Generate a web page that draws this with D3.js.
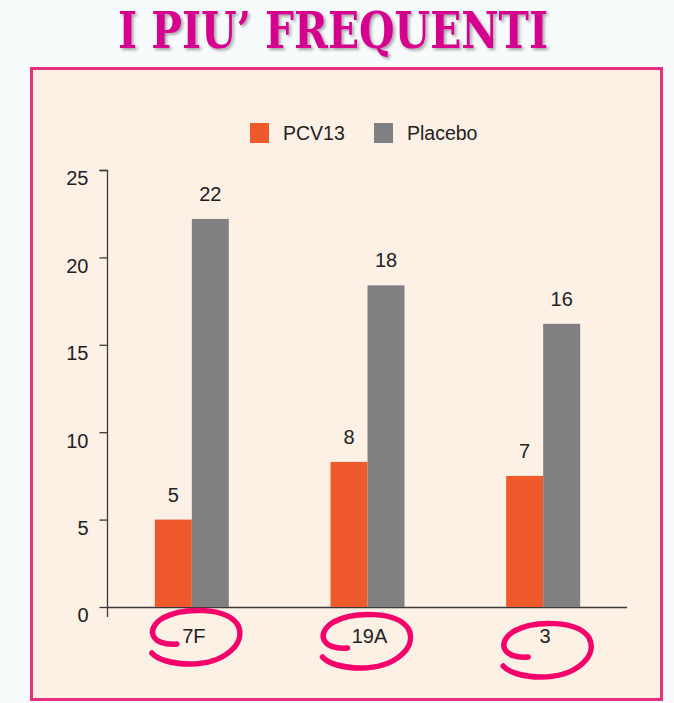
<!DOCTYPE html>
<html lang="it">
<head>
<meta charset="UTF-8">
<title>I piu' frequenti</title>
<script src="https://d3js.org/d3.v7.min.js"></script>
<style>
  * { margin: 0; padding: 0; box-sizing: border-box; }
  body { width: 674px; height: 703px; background: #f7fbfc; overflow: hidden; }
  svg { display: block; }
</style>
</head>
<body>
<div id="chart"></div>
<script>
// dati
const categories = ["7F", "19A", "3"];
const series = ["PCV13", "Placebo"];
const pcv13 = [5, 8.3, 7.5];
const placebo = [22.2, 18.4, 16.2];
const pcv13Labels = ["5", "8", "7"];
const placeboLabels = ["22", "18", "16"];
const yTicks = [0, 5, 10, 15, 20, 25];

const colors = { PCV13: "#ef5a2c", Placebo: "#808083" };

const W = 674, H = 703;
const svg = d3.select("#chart").append("svg").attr("width", W).attr("height", H);

// titolo
const shadow = svg.append("defs").append("filter").attr("id", "shadow")
  .attr("x", "-5%").attr("y", "-20%").attr("width", "110%").attr("height", "140%");
shadow.append("feDropShadow").attr("dx", 2).attr("dy", 2).attr("stdDeviation", 1.5)
  .attr("flood-color", "#000").attr("flood-opacity", 0.35);

svg.append("text")
  .attr("x", 333).attr("y", 48)
  .attr("text-anchor", "middle")
  .attr("textLength", 430)
  .attr("lengthAdjust", "spacingAndGlyphs")
  .attr("filter", "url(#shadow)")
  .style("font-family", "'DejaVu Serif', 'Liberation Serif', serif")
  .style("font-weight", "bold")
  .style("font-size", "50px")
  .style("fill", "#d5008d")
  .text("I PIU’ FREQUENTI");

// riquadro
svg.append("rect")
  .attr("x", 31.5).attr("y", 68.5).attr("width", 630).attr("height", 631)
  .attr("fill", "#fdf0e5").attr("stroke", "#e62f83").attr("stroke-width", 3);

// scale
const y = d3.scaleLinear().domain([0, 25]).range([607, 170]);
const x0 = d3.scaleBand().domain(categories).range([104, 631]);
const x1 = d3.scaleBand().domain(series).range([0, 74]);

const font = "'Liberation Sans', Arial, sans-serif";

// assi
const yAxis = svg.append("g").attr("transform", "translate(107.5,0)")
  .call(d3.axisLeft(y).tickValues(yTicks).tickSize(8).tickPadding(11));
yAxis.select(".domain").attr("d", `M-8,${y(25) + 0.5}H0V${y(0) + 10}`);
yAxis.selectAll("line, .domain").attr("stroke", "#3a3a3a").attr("stroke-width", 1.3);
yAxis.selectAll("text").attr("dy", "0.74em")
  .style("font-family", font).style("font-size", "20px").attr("fill", "#222");

svg.append("line")
  .attr("x1", 107).attr("x2", 627)
  .attr("y1", y(0) + 0.5).attr("y2", y(0) + 0.5)
  .attr("stroke", "#3a3a3a").attr("stroke-width", 1.3);

// barre
const groups = svg.selectAll(".grp").data(categories).join("g")
  .attr("class", "grp")
  .attr("transform", d => `translate(${x0(d) + x0.bandwidth() / 2 - 37},0)`);

const rows = categories.map((c, i) => [
  { s: "PCV13", v: pcv13[i], l: pcv13Labels[i] },
  { s: "Placebo", v: placebo[i], l: placeboLabels[i] }
]);

groups.selectAll("rect").data((d, i) => rows[i]).join("rect")
  .attr("x", d => x1(d.s))
  .attr("y", d => y(d.v))
  .attr("width", x1.bandwidth())
  .attr("height", d => y(0) - y(d.v))
  .attr("fill", d => colors[d.s]);

groups.selectAll("text").data((d, i) => rows[i]).join("text")
  .attr("x", d => x1(d.s) + x1.bandwidth() / 2)
  .attr("y", d => y(d.v) - 18)
  .attr("text-anchor", "middle")
  .style("font-family", font).style("font-size", "20px").attr("fill", "#222")
  .text(d => d.l);

// etichette categorie
svg.selectAll(".cat").data(categories).join("text")
  .attr("class", "cat")
  .attr("x", d => x0(d) + x0.bandwidth() / 2 + 2)
  .attr("y", 643)
  .attr("text-anchor", "middle")
  .style("font-family", font).style("font-size", "20px").attr("fill", "#222")
  .text(d => d);

// cerchi a mano
const ringPos = [{ dx: 3, cy: 637 }, { dx: -2, cy: 641 }, { dx: 3, cy: 650 }];
svg.selectAll(".ring").data(categories).join("path")
  .attr("class", "ring")
  .attr("fill", "none")
  .attr("stroke", "#f5006b")
  .attr("stroke-width", 5.5)
  .attr("stroke-linecap", "round")
  .attr("d", (d, i) => {
    const cx = x0(d) + x0.bandwidth() / 2 + ringPos[i].dx;
    const cy = ringPos[i].cy;
    const p = d3.path();
    p.moveTo(cx - 18, cy + 7);
    p.bezierCurveTo(cx - 44, cy + 9, cx - 50, cy - 8, cx - 32, cy - 19);
    p.bezierCurveTo(cx - 12, cy - 30, cx + 32, cy - 30, cx + 43, cy - 12);
    p.bezierCurveTo(cx + 52, cy + 6, cx + 30, cy + 27, cx - 5, cy + 27);
    p.bezierCurveTo(cx - 24, cy + 27, cx - 38, cy + 22, cx - 43, cy + 16);
    return p.toString();
  });

// legenda
const legend = svg.append("g");
const legX = [250, 374];
series.forEach((s, i) => {
  legend.append("rect").attr("x", legX[i]).attr("y", 123).attr("width", 19).attr("height", 20)
    .attr("fill", colors[s]);
  legend.append("text").attr("x", legX[i] + 33).attr("y", 140)
    .style("font-family", font).style("font-size", "19.5px").attr("fill", "#222")
    .text(s);
});
</script>
</body>
</html>
